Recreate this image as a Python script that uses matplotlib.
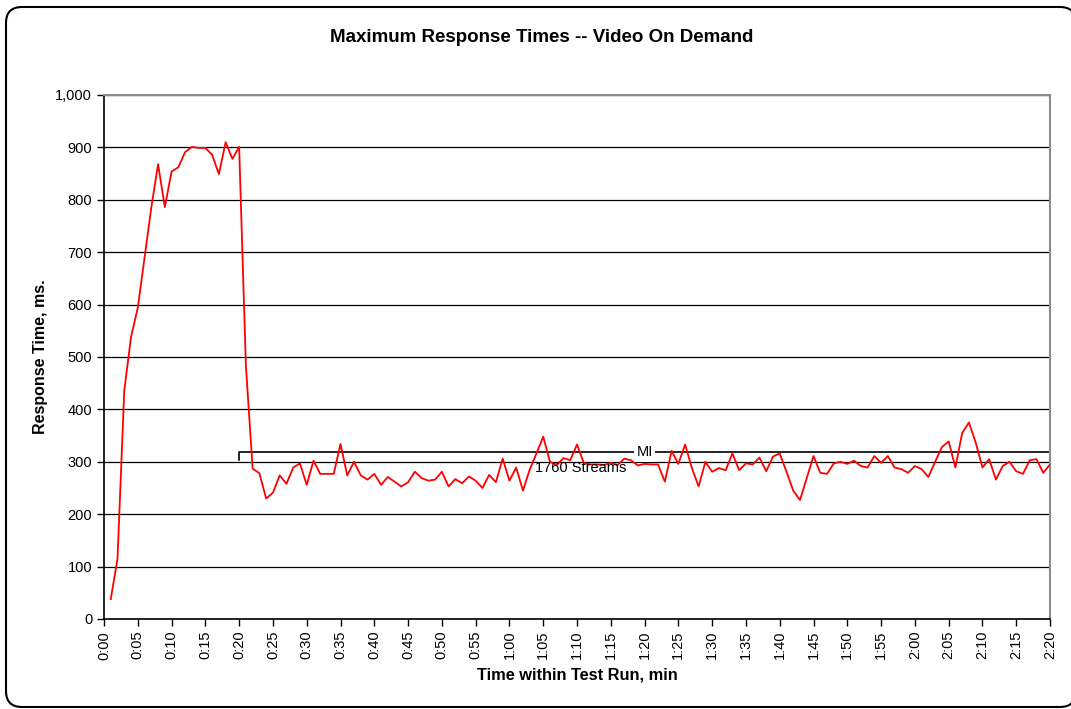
import matplotlib

matplotlib.use("Agg")
import matplotlib.pyplot as plt
from matplotlib.patches import FancyBboxPatch

plt.rcParams["font.family"] = ["Liberation Sans", "DejaVu Sans"]

# one sample per minute, minutes 1..140
minutes = list(range(1, 141))
max_response_ms = [
    38, 115, 436, 538, 594, 690, 785, 868, 786, 854,
    862, 891, 901, 899, 899, 886, 849, 910, 878, 901,
    483, 287, 278, 230, 241, 274, 258, 289, 297, 256,
    302, 277, 277, 277, 334, 274, 300, 274, 266, 277,
    256, 271, 262, 253, 261, 281, 269, 264, 266, 281,
    253, 267, 259, 272, 264, 250, 275, 261, 306, 264,
    289, 245, 285, 316, 348, 300, 294, 307, 303, 333,
    298, 295, 295, 294, 298, 294, 306, 303, 293, 296,
    295, 295, 262, 321, 296, 333, 288, 253, 300, 281,
    288, 284, 316, 284, 297, 295, 308, 282, 310, 316,
    281, 245, 227, 269, 311, 279, 277, 297, 300, 296,
    302, 292, 289, 311, 298, 311, 289, 286, 279, 292,
    286, 271, 300, 328, 339, 289, 355, 375, 337, 289,
    305, 266, 292, 300, 282, 277, 303, 305, 279, 295,
]

tick_minutes = list(range(0, 141, 5))
tick_labels = [f"{m // 60}:{m % 60:02d}" for m in tick_minutes]
y_ticks = list(range(0, 1001, 100))

phase_start, phase_end = 20, 140
phase_level = 318
phase_name = "MI"
phase_streams = "1760 Streams"

W, H = 1071, 709
fig = plt.figure(figsize=(W / 100, H / 100), dpi=100)
ax = fig.add_axes([104 / W, 90 / H, 946 / W, 524 / H])

ax.plot(minutes, max_response_ms, color="red", linewidth=1.3, zorder=3)

ax.set_xlim(0, 140)
ax.set_ylim(0, 1000)
ax.set_xticks(tick_minutes)
ax.set_xticklabels(tick_labels, rotation=90)
ax.set_yticks(y_ticks)
ax.set_yticklabels([f"{v:,}" for v in y_ticks])
ax.tick_params(axis="both", direction="out", length=5, width=1, labelsize=10.5, color="black")
ax.yaxis.grid(True, color="black", linewidth=0.9)
ax.set_axisbelow(True)

for side in ("top", "right"):
    ax.spines[side].set_color("#8c8c8c")
    ax.spines[side].set_linewidth(1.5)
for side in ("left", "bottom"):
    ax.spines[side].set_color("black")
    ax.spines[side].set_linewidth(1.2)

# bracket marking the measurement interval
ax.plot([phase_start, phase_start, phase_end, phase_end],
        [phase_level - 14, phase_level, phase_level, phase_level - 14],
        color="black", linewidth=1.2, zorder=2)
ax.text((phase_start + phase_end) / 2, phase_level, phase_name, ha="center", va="center",
        fontsize=10.5, zorder=4,
        bbox=dict(boxstyle="square,pad=0.15", facecolor="white", edgecolor="none"))
ax.text(70.5, phase_level - 16, phase_streams, ha="center", va="top", fontsize=10.5, zorder=4)

fig.text(542 / W, 1 - 37 / H, "Maximum Response Times -- Video On Demand",
         ha="center", va="center", fontsize=13.5, fontweight="bold")
ax.set_xlabel("Time within Test Run, min", fontsize=11.8, fontweight="bold", labelpad=6)
ax.set_ylabel("Response Time, ms.", fontsize=11.5, fontweight="bold", labelpad=5)

# rounded chart-area frame, drawn in pixel units on a full-figure overlay
overlay = fig.add_axes([0, 0, 1, 1], zorder=-1)
overlay.set_xlim(0, W)
overlay.set_ylim(H, 0)
overlay.axis("off")
overlay.add_patch(FancyBboxPatch((6, 7), 1070, 700,
                                 boxstyle="round,pad=0,rounding_size=16",
                                 facecolor="white", edgecolor="black", linewidth=1.5))

fig.savefig("out.png", dpi=100)
plt.close(fig)
